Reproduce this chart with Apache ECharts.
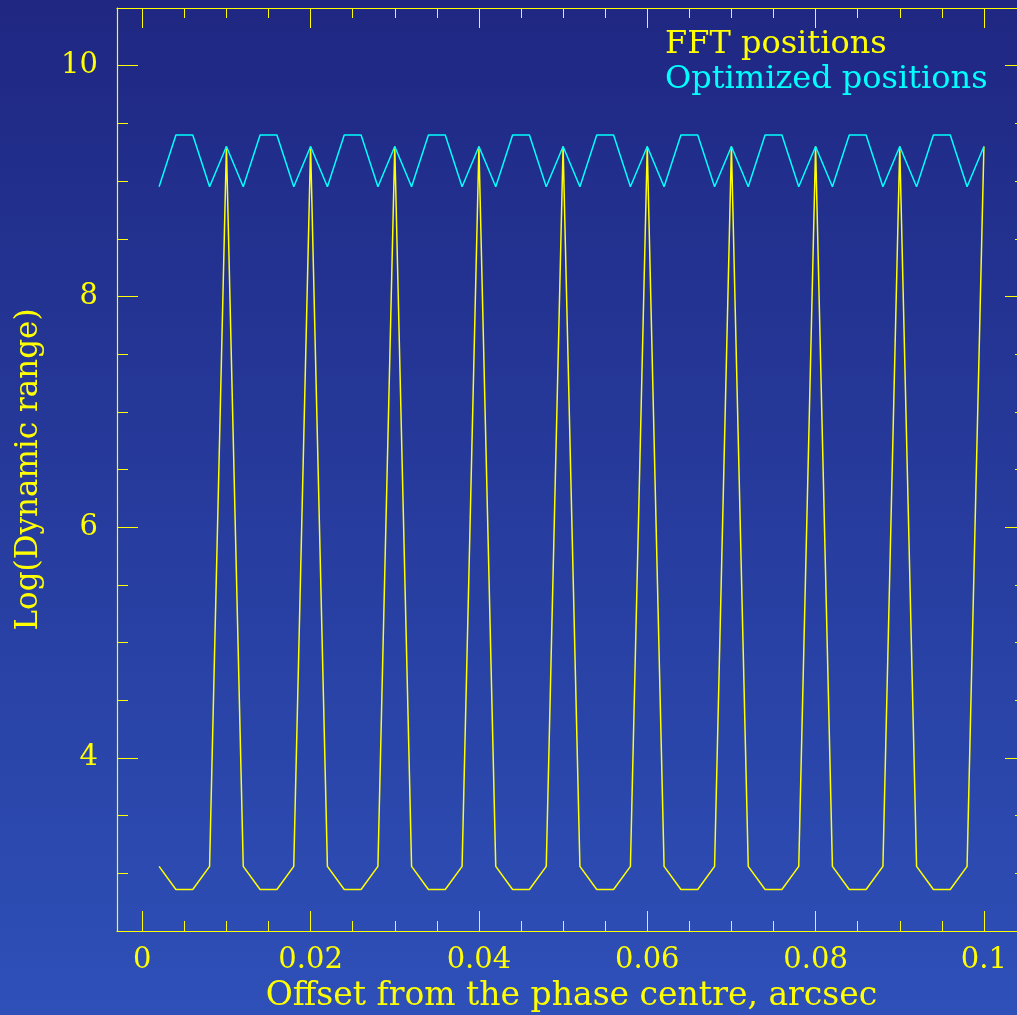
<!DOCTYPE html>
<html>
<head>
<meta charset="utf-8">
<title>Dynamic range vs offset</title>
<script src="https://cdn.jsdelivr.net/npm/echarts@6/dist/echarts.min.js"></script>
<style>
	html, body { margin: 0; padding: 0; }
	#chart { width: 1017px; height: 1015px; }
</style>
</head>
<body>
<div id="chart"></div>
<script>
// offsets from the phase centre, arcsec
var offsets = [0.002, 0.004, 0.006, 0.008, 0.010, 0.012, 0.014, 0.016, 0.018, 0.020,
	0.022, 0.024, 0.026, 0.028, 0.030, 0.032, 0.034, 0.036, 0.038, 0.040,
	0.042, 0.044, 0.046, 0.048, 0.050, 0.052, 0.054, 0.056, 0.058, 0.060,
	0.062, 0.064, 0.066, 0.068, 0.070, 0.072, 0.074, 0.076, 0.078, 0.080,
	0.082, 0.084, 0.086, 0.088, 0.090, 0.092, 0.094, 0.096, 0.098, 0.100];
// log(dynamic range), FFT positions
var fftValues = [3.06, 2.86, 2.86, 3.06, 9.30, 3.06, 2.86, 2.86, 3.06, 9.30,
	3.06, 2.86, 2.86, 3.06, 9.30, 3.06, 2.86, 2.86, 3.06, 9.30,
	3.06, 2.86, 2.86, 3.06, 9.30, 3.06, 2.86, 2.86, 3.06, 9.30,
	3.06, 2.86, 2.86, 3.06, 9.30, 3.06, 2.86, 2.86, 3.06, 9.30,
	3.06, 2.86, 2.86, 3.06, 9.30, 3.06, 2.86, 2.86, 3.06, 9.30];
// log(dynamic range), optimized positions
var optValues = [8.95, 9.40, 9.40, 8.95, 9.30, 8.95, 9.40, 9.40, 8.95, 9.30,
	8.95, 9.40, 9.40, 8.95, 9.30, 8.95, 9.40, 9.40, 8.95, 9.30,
	8.95, 9.40, 9.40, 8.95, 9.30, 8.95, 9.40, 9.40, 8.95, 9.30,
	8.95, 9.40, 9.40, 8.95, 9.30, 8.95, 9.40, 9.40, 8.95, 9.30,
	8.95, 9.40, 9.40, 8.95, 9.30, 8.95, 9.40, 9.40, 8.95, 9.30];
// tick values
var xTickLabels = [0, 0.02, 0.04, 0.06, 0.08, 0.1];
var xMinorTicks = [0.005, 0.01, 0.015, 0.025, 0.03, 0.035, 0.045, 0.05, 0.055,
	0.065, 0.07, 0.075, 0.085, 0.09, 0.095];
var yTickLabels = [4, 6, 8, 10];
var yMinorTicks = [3, 3.5, 4.5, 5, 5.5, 6.5, 7, 7.5, 8.5, 9, 9.5];

var yellow = '#ffff00';
var cyan = '#00ffff';
var font = 'DejaVu Serif';

function pairs(xs, ys) {
	return xs.map(function (x, i) { return [x, ys[i]]; });
}

// 1 one axis per side and tick kind (major / minor), all on the same range
function xAx(pos, ticks, len, labels, line) {
	return {
		type: 'value', position: pos, min: -0.003, max: 0.105,
		axisLine: { show: line, onZero: false, lineStyle: { color: yellow, width: 1.2 } },
		axisTick: { show: true, inside: true, length: len, customValues: ticks,
			lineStyle: { color: yellow, width: 1 } },
		axisLabel: { show: labels, customValues: ticks, margin: 15, color: yellow,
			fontFamily: font, fontSize: 29 },
		splitLine: { show: false }
	};
}
function yAx(pos, ticks, len, labels, line) {
	return {
		type: 'value', position: pos, min: 2.5, max: 10.5,
		axisLine: { show: line, onZero: false, lineStyle: { color: yellow, width: 1.2 } },
		axisTick: { show: true, inside: true, length: len, customValues: ticks,
			lineStyle: { color: yellow, width: 1 } },
		axisLabel: { show: labels, customValues: ticks, margin: 19, color: yellow,
			fontFamily: font, fontSize: 29 },
		splitLine: { show: false }
	};
}

var xBottom = xAx('bottom', xTickLabels, 20, true, true);
xBottom.name = 'Offset from the phase centre, arcsec';
xBottom.nameLocation = 'middle';
xBottom.nameGap = 49;
xBottom.nameTextStyle = { color: yellow, fontFamily: font, fontSize: 33 };

var yLeft = yAx('left', yTickLabels, 21, true, true);
yLeft.name = 'Log(Dynamic range)';
yLeft.nameLocation = 'middle';
yLeft.nameGap = 73;
yLeft.nameTextStyle = { color: yellow, fontFamily: font, fontSize: 31 };

var myChart = echarts.init(document.getElementById('chart'));
var option = {
	animation: false,
	backgroundColor: {
		type: 'linear', x: 0, y: 0, x2: 0, y2: 1,
		colorStops: [{ offset: 0, color: '#1f2782' }, { offset: 1, color: '#2e50b8' }]
	},
	// 2 frame runs past the right edge of the picture, keep it there
	grid: { left: 117, top: 8, width: 909, height: 923, outerBoundsMode: 'none', containLabel: false },
	legend: {
		orient: 'vertical', left: 660, top: 29, padding: 0, itemGap: 3,
		itemWidth: 0, itemHeight: 0, icon: 'rect',
		textStyle: { fontFamily: font, fontSize: 32 },
		data: [
			{ name: 'FFT positions', textStyle: { color: yellow } },
			{ name: 'Optimized positions', textStyle: { color: cyan } }
		]
	},
	xAxis: [
		xBottom,
		xAx('bottom', xMinorTicks, 10, false, false),
		xAx('top', xTickLabels, 20, false, true),
		xAx('top', xMinorTicks, 10, false, false)
	],
	yAxis: [
		yLeft,
		yAx('left', yMinorTicks, 11, false, false),
		yAx('right', yTickLabels, 21, false, true),
		yAx('right', yMinorTicks, 11, false, false)
	],
	series: [
		{
			name: 'FFT positions', type: 'line', showSymbol: false,
			data: pairs(offsets, fftValues),
			lineStyle: { color: yellow, width: 1.5 }, itemStyle: { color: yellow }
		},
		{
			name: 'Optimized positions', type: 'line', showSymbol: false,
			data: pairs(offsets, optValues),
			lineStyle: { color: cyan, width: 1.5 }, itemStyle: { color: cyan }
		}
	]
};
myChart.setOption(option);
</script>
</body>
</html>
